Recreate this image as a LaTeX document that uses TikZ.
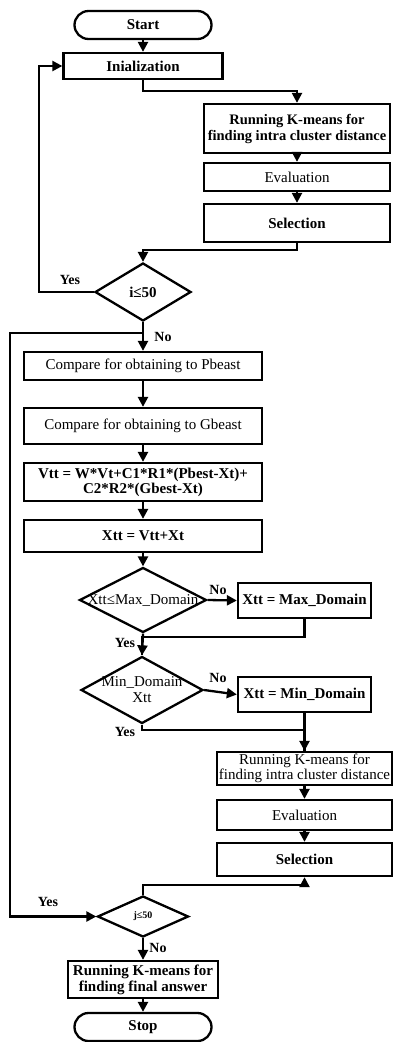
\documentclass[tikz,border=0pt]{standalone}
\usepackage{fontspec}
\setmainfont{Liberation Serif}
\usepackage{tikz}
\usetikzlibrary{positioning, calc, shapes.geometric, arrows.meta}

\begin{document}
\begin{tikzpicture}[x=1pt, y=-1pt, line width=2.3pt,
		font=\fontsize{15}{16}\selectfont,
		box/.style={draw, rectangle, inner sep=1pt, align=center},
		term/.style={draw, rectangle, rounded corners=14pt, minimum width=137, minimum height=28, font=\fontsize{15}{16}\selectfont\bfseries},
		dia/.style={draw, diamond, inner sep=0pt, align=center},
		arr/.style={-{Triangle[length=10pt, width=10pt]}},
		lbl/.style={font=\fontsize{14}{15}\selectfont\bfseries}]
	\useasboundingbox (0,0) rectangle (392,1042);
	
	% first loop
	\node[term] (start) at (143, 25) {Start};
	\node[box, minimum width=159, minimum height=26, font=\fontsize{15}{16}\selectfont\bfseries] (init) at (143, 66) {Inialization};
	\node[box, minimum width=186, minimum height=49, font=\fontsize{14.5}{16}\selectfont\bfseries] (kmeans1) at (297, 128.5) {Running K-means for\\finding intra cluster distance};
	\node[box, minimum width=186, minimum height=28] (eval1) at (297, 177) {Evaluation};
	\node[box, minimum width=186, minimum height=38, font=\fontsize{15}{16}\selectfont\bfseries] (sel1) at (297, 223) {Selection};
	\node[dia, minimum width=96, minimum height=58, label={[font=\fontsize{15}{16}\selectfont\bfseries]center:i≤50}] (ichk) at (143, 292) {};
	
	% second loop
	\node[box, minimum width=238, minimum height=28] (pbest) at (143, 366) {Compare for obtaining to Pbeast};
	\node[box, minimum width=238, minimum height=36] (gbest) at (143, 426) {Compare for obtaining to Gbeast};
	\node[box, minimum width=238, minimum height=38, font=\fontsize{15}{15}\selectfont\bfseries] (vel) at (143, 482) {Vtt = W*Vt+C1*R1*(Pbest-Xt)+\\C2*R2*(Gbest-Xt)};
	\node[box, minimum width=238, minimum height=32, font=\fontsize{15}{16}\selectfont\bfseries] (pos) at (143, 536) {Xtt = Vtt+Xt};
	\node[dia, minimum width=127, minimum height=65, label={center:Xtt≤Max\_Domain}] (maxchk) at (143, 600) {};
	\node[box, minimum width=133, minimum height=35, font=\fontsize{15}{16}\selectfont\bfseries] (maxset) at (304.5, 600.5) {Xtt = Max\_Domain};
	\node[dia, minimum width=122, minimum height=67, label={[align=center]center:Min\_Domain\\Xtt}] (minchk) at (142, 690) {};
	\node[box, minimum width=133, minimum height=35, font=\fontsize{15}{16}\selectfont\bfseries] (minset) at (304.5, 694.5) {Xtt = Min\_Domain};
	\node[box, minimum width=175, minimum height=33, font=\fontsize{15}{15}\selectfont] (kmeans2) at (304.5, 768.5) {Running K-means for\\finding intra cluster distance};
	\node[box, minimum width=175, minimum height=30] (eval2) at (304.5, 815) {Evaluation};
	\node[box, minimum width=175, minimum height=33, font=\fontsize{15}{16}\selectfont\bfseries] (sel2) at (304.5, 859.5) {Selection};
	\node[dia, minimum width=91, minimum height=41, label={[font=\fontsize{10}{12}\selectfont\bfseries]center:j≤50}] (jchk) at (143, 916.5) {};
	\node[box, minimum width=150, minimum height=37, font=\fontsize{15}{16}\selectfont\bfseries] (final) at (143, 979.5) {Running K-means for\\finding final answer};
	\node[term] (stop) at (143, 1027) {Stop};
	
	\draw[arr] (start) -- (init);
	\draw[arr] (init.south) -- ++(0, 11) -| (kmeans1.north);
	\draw[arr] (kmeans1) -- (eval1);
	\draw[arr] (eval1) -- (sel1);
	\draw[arr] (sel1.south) -- ++(0, 7) -| (ichk.north);
	\draw[arr] (ichk.west) -- ++(-55, 0) |- (init.west);
	\node[lbl] (yes1) at (70, 280) {Yes};
	\draw[arr] (ichk.south) -- (pbest.north);
	\node[lbl] (no1) at (163, 337) {No};
	
	\coordinate (jback) at (143, 333);
	\draw[arr] (jback) -- ++(-133, 0) |- (jchk.west);
	\node[lbl] (yes4) at (48, 902) {Yes};
	
	\draw[arr] (pbest) -- (gbest);
	\draw[arr] (gbest) -- (vel);
	\draw[arr] (vel) -- (pos);
	\draw[arr] (pos) -- (maxchk);
	\draw[arr] (maxchk.east) -- (maxset.west);
	\node[lbl] (no2) at (218, 590) {No};
	\draw[arr] (maxchk.south) -- (minchk.north);
	\draw (maxset.south) -- ++(0, 18) -| (minchk.north);
	\node[lbl] (yes2) at (125, 643) {Yes};
	\draw[arr] (minchk.east) -- (minset.west);
	\node[lbl] (no3) at (218, 678) {No};
	\draw[arr] (minset) -- (kmeans2);
	\draw (minchk.south) -- ++(0, 5) -| (kmeans2.north);
	\node[lbl] (yes3) at (125, 732) {Yes};
	\draw[arr] (kmeans2) -- (eval2);
	\draw[arr] (eval2) -- (sel2);
	\draw[arr] (jchk.north) -- ++(0, -10) -| (sel2.south);
	\draw[arr] (jchk) -- (final);
	\node[lbl] (no4) at (158, 948) {No};
	\draw[arr] (final) -- (stop);
\end{tikzpicture}
\end{document}
